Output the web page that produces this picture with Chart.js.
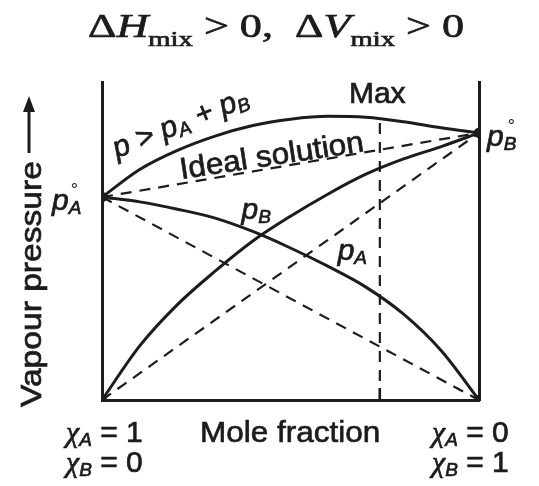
<!DOCTYPE html>
<html>
<head>
<meta charset="utf-8">
<script src="https://cdn.jsdelivr.net/npm/chart.js@4/dist/chart.umd.min.js"></script>
<style>
  html, body { margin: 0; padding: 0; background: #fff; }
  #wrap { width: 539px; height: 486px; }
</style>
</head>
<body>
<div id="wrap"><canvas id="chart" width="539" height="486"></canvas></div>
<script>
// mole fraction of B along the x axis (xA = 1 on the left, xB = 1 on the right)
const moleB = [0, 0.1, 0.2, 0.3, 0.4, 0.5, 0.6, 0.7, 0.8, 0.9, 1];
const pTotal = [63.8, 72.5, 78.5, 83, 86.3, 88.3, 89.2, 88.9, 87.5, 85.6, 84];
const pA = [63.8, 62.3, 60, 57.2, 53, 47.8, 42, 35.5, 27, 15.5, 0];
const pB = [0, 17, 30, 40.5, 50, 57.8, 64.8, 71, 75.8, 79.7, 84];
// ideal (Raoult) straight lines
const idealX = [0, 1];
const idealA = [63.8, 0];
const idealB = [0, 84];
const idealTotal = [63.8, 84];
// composition of the maximum
const maxX = [0.737, 0.737];
const maxY = [0, 88.1];

const INK = "#1c1c1c";
const SANS = "'Liberation Sans', Arial, sans-serif";
const SERIF = "'Liberation Serif', 'Times New Roman', serif";

function pts(xs, ys) {
  return xs.map((x, i) => ({ x: x, y: ys[i] }));
}

function solid(data, dots) {
  const last = data.length - 1;
  return {
    data: data,
    borderColor: INK,
    backgroundColor: INK,
    borderWidth: 3,
    pointRadius: (c) => (dots && (c.dataIndex === 0 || c.dataIndex === last) ? 3.5 : 0),
    tension: 0.4,
    cubicInterpolationMode: "monotone",
    fill: false,
  };
}

function dashed(data) {
  return {
    data: data,
    borderColor: INK,
    borderWidth: 2.2,
    borderDash: [11, 8],
    pointRadius: 0,
    tension: 0,
    fill: false,
  };
}

// draw a run of text pieces (for subscripts / italics), sx stretches along the run
function rich(ctx, x, y, parts, angle, sx) {
  ctx.save();
  ctx.translate(x, y);
  if (angle) ctx.rotate(angle);
  if (sx) ctx.scale(sx, 1);
  ctx.lineWidth = 0.7; // the scan's lettering is a bit heavier than regular
  let cx = 0;
  parts.forEach((p) => {
    ctx.font = p.font;
    ctx.fillText(p.t, cx, p.dy || 0);
    ctx.strokeText(p.t, cx, p.dy || 0);
    if (p.ring) {
      ctx.font = p.ring;
      ctx.fillText("°", cx + (p.rx || 0), p.ry || 0);
      ctx.font = p.font;
    }
    cx += ctx.measureText(p.t).width;
  });
  ctx.restore();
}

const labels = {
  id: "labels",
  afterDraw(chart) {
    const ctx = chart.ctx;
    const xs = chart.scales.x;
    const ys = chart.scales.y;
    const px = (v) => xs.getPixelForValue(v);
    const py = (v) => ys.getPixelForValue(v);
    ctx.save();
    ctx.fillStyle = INK;
    ctx.strokeStyle = INK;
    ctx.textBaseline = "alphabetic";

    // title
    const big = "34px " + SERIF;
    const it = "italic 34px " + SERIF;
    const sub = "22px " + SERIF;
    rich(ctx, 88, 37, [
      { t: "\u0394", font: big },
      { t: "H", font: it },
      { t: "mix", font: sub, dy: 9 },
      { t: " > 0,  ", font: big },
      { t: "\u0394", font: big },
      { t: "V", font: it },
      { t: "mix", font: sub, dy: 9 },
      { t: " > 0", font: big },
    ], 0, 1.3);

    // y axis label with arrow
    rich(ctx, 41, 407, [{ t: "Vapour pressure", font: "30px " + SANS }], -Math.PI / 2, 1.12);
    ctx.lineWidth = 3;
    ctx.beginPath();
    ctx.moveTo(29, 153);
    ctx.lineTo(29, 108);
    ctx.stroke();
    ctx.beginPath();
    ctx.moveTo(29, 96);
    ctx.lineTo(23, 112);
    ctx.lineTo(35, 112);
    ctx.closePath();
    ctx.fill();

    const pf = "italic 30px " + SANS;
    const sf = "italic 19px " + SANS;
    const rf = "18px " + SANS;

    // pure component pressures
    rich(ctx, px(0) - 50, py(idealA[0]) + 13, [
      { t: "p", font: pf },
      { t: "A", font: sf, dy: 4, ring: rf, rx: 2, ry: -14 },
    ]);
    rich(ctx, px(1) + 8, py(idealB[1]) + 13, [
      { t: "p", font: pf },
      { t: "B", font: sf, dy: 4, ring: rf, rx: 4, ry: -14 },
    ]);

    // curve labels
    rich(ctx, px(0.04), py(76), [
      { t: "p > p", font: "italic 30px " + SANS },
      { t: "A", font: "italic 19px " + SANS, dy: 4 },
      { t: " + p", font: "italic 30px " + SANS },
      { t: "B", font: "italic 19px " + SANS, dy: 4 },
    ], -0.38);
    rich(ctx, px(0.21), py(69.5), [
      { t: "Ideal solution", font: "30px " + SANS },
    ], -0.15, 1.05);
    rich(ctx, px(0.655), py(93.5), [{ t: "Max", font: "30px " + SANS }]);
    rich(ctx, px(0.37), py(57), [
      { t: "p", font: pf },
      { t: "B", font: sf, dy: 4 },
    ]);
    rich(ctx, px(0.625), py(44), [
      { t: "p", font: pf },
      { t: "A", font: sf, dy: 4 },
    ]);

    // bottom labels
    const chi = "italic 30px " + SERIF;
    const cs = "italic 19px " + SANS;
    const nf = "30px " + SANS;
    const b0 = py(0);
    [[px(0) - 36, ["1", "0"]], [px(1) - 47, ["0", "1"]]].forEach(([x, v]) => {
      rich(ctx, x, b0 + 42, [
        { t: "\u03C7", font: chi },
        { t: "A", font: cs, dy: 4 },
        { t: " = " + v[0], font: nf },
      ]);
      rich(ctx, x, b0 + 72, [
        { t: "\u03C7", font: chi },
        { t: "B", font: cs, dy: 4 },
        { t: " = " + v[1], font: nf },
      ]);
    });
    rich(ctx, px(0.26), b0 + 42, [{ t: "Mole fraction", font: "30px " + SANS }], 0, 1.05);

    // small tick under the maximum
    ctx.lineWidth = 2.5;
    ctx.beginPath();
    ctx.moveTo(px(maxX[0]), b0);
    ctx.lineTo(px(maxX[0]), b0 - 12);
    ctx.stroke();
    ctx.restore();
  },
};

const axisStyle = {
  grid: { display: false },
  ticks: { display: false },
  border: { display: true, color: INK, width: 3 },
};

new Chart(document.getElementById("chart"), {
  type: "line",
  data: {
    datasets: [
      solid(pts(moleB, pTotal), true),
      solid(pts(moleB, pA), true),
      solid(pts(moleB, pB), true),
      dashed(pts(idealX, idealA)),
      dashed(pts(idealX, idealB)),
      dashed(pts(idealX, idealTotal)),
      dashed(pts(maxX, maxY)),
    ],
  },
  options: {
    responsive: false,
    animation: false,
    devicePixelRatio: 1,
    layout: { padding: { left: 94, right: 52, top: 82, bottom: 78 } },
    plugins: { legend: { display: false }, tooltip: { enabled: false }, title: { display: false } },
    scales: {
      x: Object.assign({ type: "linear", min: 0, max: 1 }, axisStyle),
      y: Object.assign({ type: "linear", min: 0, max: 100, position: "left" }, axisStyle),
      y2: Object.assign({ type: "linear", min: 0, max: 100, position: "right" }, axisStyle),
    },
  },
  plugins: [labels],
});
</script>
</body>
</html>
